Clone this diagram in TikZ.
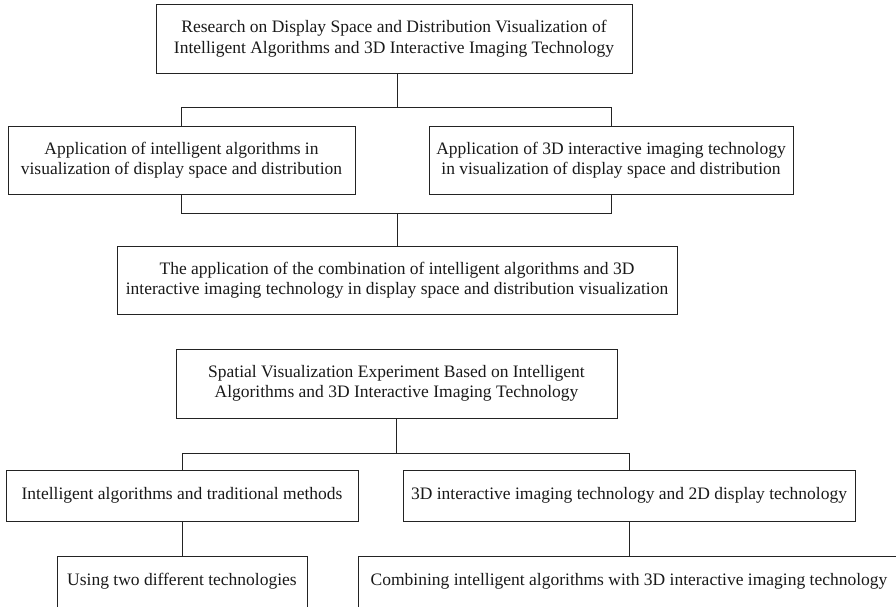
\documentclass[tikz,border=0pt]{standalone}
\usepackage{fontspec}
\setmainfont{Liberation Serif}
\usetikzlibrary{calc}
\definecolor{inkline}{RGB}{35,35,35}
\definecolor{inktext}{RGB}{25,25,25}
\tikzset{
  box/.style={draw=inkline, line width=0.8pt, rectangle, align=center,
    inner sep=0pt, text=inktext,
    font=\fontsize{17.5}{20.5}\selectfont},
  link/.style={draw=inkline, line width=0.8pt}
}
\begin{document}
\begin{tikzpicture}[x=1pt,y=-1pt]
\useasboundingbox (0,0) rectangle (896,606);
\clip (0,0) rectangle (896,606);

% upper tree
\node[box, minimum width=476, minimum height=69] (top) at (394,38.5)
  {Research on Display Space and Distribution Visualization of\\Intelligent Algorithms and 3D Interactive Imaging Technology};
\node[box, minimum width=347, minimum height=68] (a1) at (181.5,160)
  {Application of intelligent algorithms in\\visualization of display space and distribution};
\node[box, minimum width=364, minimum height=68] (a2) at (611,160)
  {Application of 3D interactive imaging technology\\in visualization of display space and distribution};
\node[box, minimum width=560, minimum height=68] (comb) at (397,280)
  {The application of the combination of intelligent algorithms and 3D\\interactive imaging technology in display space and distribution visualization};

\draw[link] (top.south -| comb.north) -- ++(0,34) coordinate (j1);
\draw[link] (a1.north) |- (j1) -| (a2.north);
\draw[link] (comb.north) -- ++(0,-32) coordinate (j2);
\draw[link] (a1.south) |- (j2) -| (a2.south);

% lower tree
\node[box, minimum width=441, minimum height=69] (exp) at (396.5,383.5)
  {Spatial Visualization Experiment Based on Intelligent\\Algorithms and 3D Interactive Imaging Technology};
\node[box, minimum width=352, minimum height=51] (b1) at (182,495.5)
  {Intelligent algorithms and traditional methods};
\node[box, minimum width=452, minimum height=51] (b2) at (629,495.5)
  {3D interactive imaging technology and 2D display technology};
\node[box, minimum width=250, minimum height=51] (c1) at (182,581.5)
  {Using two different technologies};
\node[box, minimum width=542, minimum height=51] (c2) at (629,581.5)
  {Combining intelligent algorithms with 3D interactive imaging technology};

\draw[link] (exp.south) -- ++(0,35) coordinate (j3);
\draw[link] (b1.north) |- (j3) -| (b2.north);
\draw[link] (b1.south) -- (c1.north);
\draw[link] (b2.south) -- (c2.north);
\end{tikzpicture}
\end{document}
